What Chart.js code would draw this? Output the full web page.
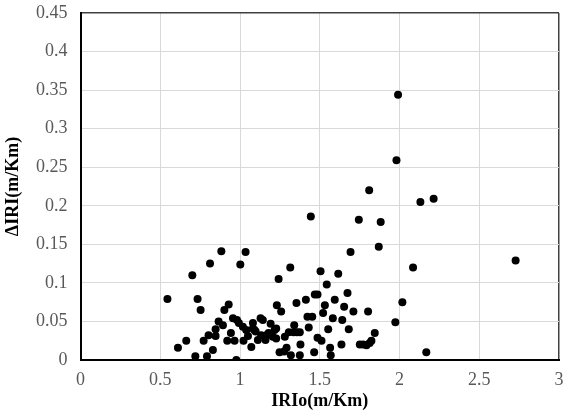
<!DOCTYPE html>
<html>
<head>
<meta charset="utf-8">
<script src="https://cdn.jsdelivr.net/npm/chart.js@4"></script>
<style>
  html, body { margin: 0; padding: 0; background: #fff; }
  #iriChart { display: block; }
</style>
</head>
<body>
<canvas id="iriChart" width="564" height="415"></canvas>
<script>
// IRIo (m/Km)
const iri0 = [
  0.545, 0.611, 0.663, 0.701, 0.720, 0.734, 0.753, 0.772, 0.793, 0.812,
  0.803, 0.830, 0.847, 0.847, 0.866, 0.883, 0.893, 0.902, 0.929, 0.920,
  0.943, 0.966, 0.956, 0.977, 0.981, 1.002, 1.035, 0.993, 1.018, 1.022,
  1.039, 1.050, 1.071, 1.081, 1.081, 1.098, 1.112, 1.129, 1.143, 1.133,
  1.160, 1.165, 1.179, 1.192, 1.206, 1.217, 1.242, 1.231, 1.248, 1.258,
  1.227, 1.227, 1.091,
  1.444, 1.745, 1.882, 1.870, 1.693, 2.728, 1.315, 1.505, 1.616, 2.085,
  1.544, 1.674, 1.469, 1.486, 1.413, 1.594, 1.354, 1.532, 1.653, 2.018,
  1.521, 1.711, 1.803, 1.423, 1.453, 1.582, 1.641, 1.974, 1.340, 1.431,
  1.553, 1.682, 1.306, 1.336, 1.357, 1.375, 1.281, 1.845, 1.486, 1.511,
  1.824, 1.813, 1.793, 1.772, 1.751, 1.636, 1.379, 1.565, 1.292, 1.277,
  1.465, 2.168, 1.319, 1.375, 1.569,
  1.991, 1.981, 1.810, 2.131, 2.214
];
// ΔIRI (m/Km)
const deltaIri = [
  0.079, 0.016, 0.025, 0.110, 0.005, 0.079, 0.065, 0.025, 0.005, 0.125,
  0.032, 0.013, 0.031, 0.040, 0.050, 0.141, 0.045, 0.065, 0.072, 0.025,
  0.035, 0.025, 0.054, 0.000, 0.052, 0.124, 0.140, 0.048, 0.043, 0.025,
  0.039, 0.031, 0.017, 0.041, 0.048, 0.037, 0.026, 0.054, 0.052, 0.032,
  0.026, 0.032, 0.035, 0.047, 0.030, 0.039, 0.105, 0.071, 0.010, 0.063,
  0.041, 0.028, 0.039,
  0.186, 0.182, 0.179, 0.147, 0.140, 0.129, 0.120, 0.115, 0.112, 0.120,
  0.098, 0.087, 0.085, 0.085, 0.078, 0.078, 0.074, 0.071, 0.069, 0.075,
  0.061, 0.063, 0.063, 0.056, 0.056, 0.054, 0.052, 0.049, 0.045, 0.042,
  0.040, 0.040, 0.036, 0.036, 0.036, 0.036, 0.030, 0.035, 0.029, 0.025,
  0.025, 0.022, 0.019, 0.020, 0.020, 0.020, 0.020, 0.016, 0.016, 0.011,
  0.010, 0.010, 0.006, 0.006, 0.006,
  0.344, 0.259, 0.220, 0.205, 0.209
];

const xTicks = [0, 0.5, 1, 1.5, 2, 2.5, 3];
const yTicks = [0, 0.05, 0.1, 0.15, 0.2, 0.25, 0.3, 0.35, 0.4, 0.45];
const xTitle = 'IRIo(m/Km)';
const yTitle = 'ΔIRI(m/Km)';

const points = iri0.map((x, i) => ({ x: x, y: deltaIri[i] }));

const tickFont = { family: '"Liberation Serif", serif', size: 18 };
const titleFont = { family: '"Liberation Serif", serif', size: 18, weight: 'bold' };

new Chart(document.getElementById('iriChart'), {
  type: 'scatter',
  data: {
    datasets: [{
      data: points,
      backgroundColor: '#000',
      borderWidth: 0,
      pointRadius: 4,
      pointHoverRadius: 4
    }]
  },
  options: {
    responsive: false,
    animation: false,
    layout: { padding: { top: 13, right: 5, left: 0, bottom: 0 } },
    plugins: {
      legend: { display: false },
      tooltip: { enabled: false }
    },
    scales: {
      x: {
        type: 'linear',
        min: 0,
        max: 3,
        afterBuildTicks: (scale) => { scale.ticks = xTicks.map(v => ({ value: v })); },
        afterFit: (scale) => { scale.height = 55; },
        border: { color: '#000', width: 2 },
        grid: {
          // invisible tick marks push the labels down without widening the side padding
          drawTicks: true,
          tickLength: 9,
          tickColor: 'rgba(0,0,0,0)',
          color: (c) => (c.tick && c.tick.value === 3 ? '#404040' : '#d9d9d9'),
          lineWidth: (c) => (c.tick && c.tick.value === 3 ? 1.5 : 1)
        },
        ticks: {
          padding: 0,
          color: '#595959',
          font: tickFont,
          maxRotation: 0,
          callback: (v) => String(v)
        },
        title: {
          display: true,
          text: xTitle,
          color: '#000',
          font: titleFont,
          padding: { top: 0, bottom: 3 }
        }
      },
      y: {
        type: 'linear',
        min: 0,
        max: 0.45,
        afterBuildTicks: (scale) => { scale.ticks = yTicks.map(v => ({ value: v })); },
        afterFit: (scale) => { scale.width = 80.5; },
        border: { color: '#000', width: 2 },
        grid: {
          drawTicks: true,
          tickLength: 13,
          tickColor: 'rgba(0,0,0,0)',
          color: (c) => (c.tick && c.tick.value === 0.45 ? '#404040' : '#d9d9d9'),
          lineWidth: (c) => (c.tick && c.tick.value === 0.45 ? 1.5 : 1)
        },
        ticks: {
          padding: 0,
          color: '#595959',
          font: tickFont,
          callback: (v) => String(Number(v.toFixed(2)))
        },
        title: {
          display: true,
          text: yTitle,
          color: '#000',
          font: titleFont,
          padding: { top: 3, bottom: 0 }
        }
      }
    }
  }
});
</script>
</body>
</html>
